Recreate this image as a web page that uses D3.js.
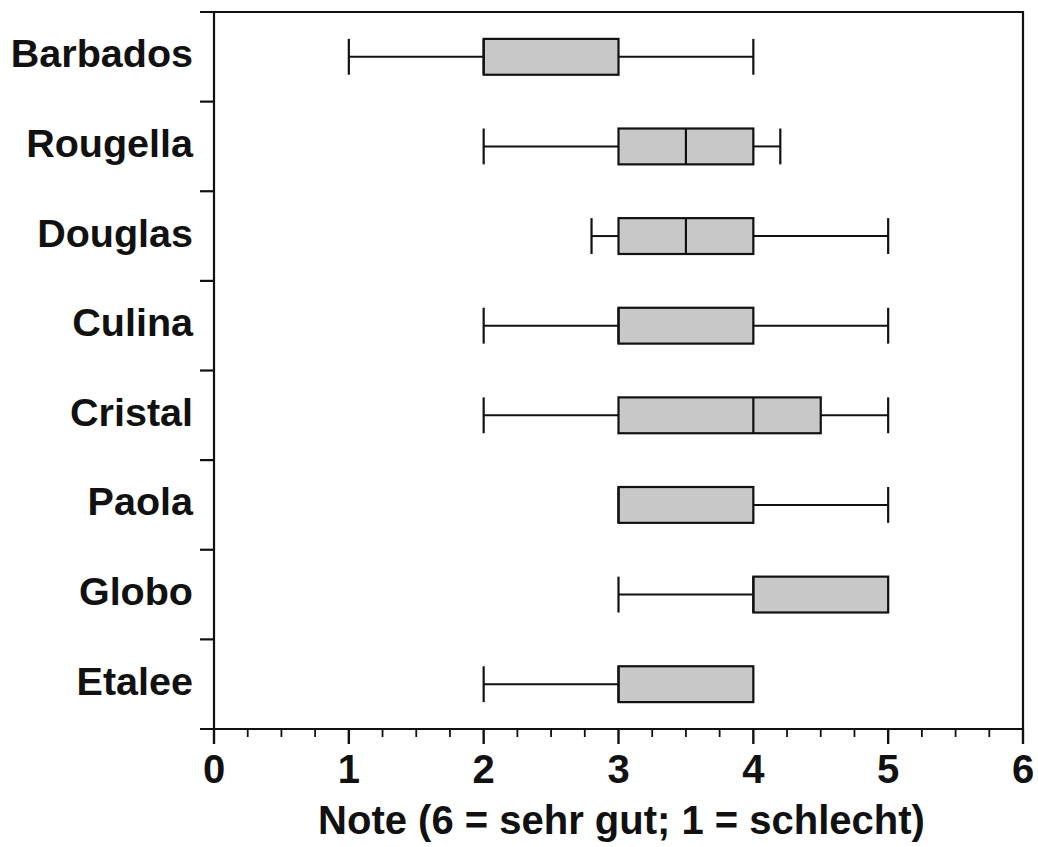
<!DOCTYPE html>
<html>
<head>
<meta charset="utf-8">
<script src="https://cdn.jsdelivr.net/npm/d3@7"></script>
<style>
  body { margin: 0; background: #fff; }
  text { font-family: "Liberation Sans", Arial, sans-serif; font-weight: bold; fill: #111; }
</style>
</head>
<body>
<svg width="1038" height="847"></svg>
<script>
// data
const names   = ["Barbados", "Rougella", "Douglas", "Culina", "Cristal", "Paola", "Globo", "Etalee"];
const mins    = [1, 2, 2.8, 2, 2, 3, 3, 2];
const q1s     = [2, 3, 3,   3, 3, 3, 4, 3];
const medians = [2, 3.5, 3.5, 3, 4, 3, 4, 3];
const q3s     = [3, 4, 4,   4, 4.5, 4, 5, 4];
const maxs    = [4, 4.2, 5, 5, 5, 5, 5, 4];
const xTicks  = [0, 1, 2, 3, 4, 5, 6];
const xTitle  = "Note (6 = sehr gut; 1 = schlecht)";

const data = names.map((n, i) => ({name: n, min: mins[i], q1: q1s[i], med: medians[i], q3: q3s[i], max: maxs[i]}));

const svg = d3.select("svg");
const mLeft = 214, mRight = 1023, mTop = 12, mBottom = 729;

const x = d3.scaleLinear().domain([0, 6]).range([mLeft, mRight]);
const y = d3.scaleBand().domain(names).range([mTop, mBottom]);
const bh = y.bandwidth() * 0.4;

// frame: top and right border
svg.append("path")
  .attr("d", `M${mLeft - 14},${mTop}H${mRight}V${mBottom}`)
  .attr("fill", "none").attr("stroke", "#111").attr("stroke-width", 2.2);

// x axis with minor ticks
const xg = svg.append("g").attr("transform", `translate(0,${mBottom})`);
xg.append("line").attr("x1", mLeft - 14).attr("x2", mRight)
  .attr("stroke", "#111").attr("stroke-width", 2.2);
xg.selectAll(".minor").data(d3.range(0, 6.001, 0.25).filter(v => v % 1 !== 0))
  .enter().append("line")
    .attr("x1", d => x(d)).attr("x2", d => x(d))
    .attr("y2", 8).attr("stroke", "#111").attr("stroke-width", 1.8);
xg.selectAll(".major").data(xTicks)
  .enter().append("line")
    .attr("x1", d => x(d)).attr("x2", d => x(d))
    .attr("y2", 15).attr("stroke", "#111").attr("stroke-width", 2.4);
xg.selectAll(".lab").data(xTicks)
  .enter().append("text")
    .attr("x", d => x(d)).attr("y", 54)
    .attr("text-anchor", "middle")
    .style("font-size", "40px")
    .text(d => d);

svg.append("text")
  .attr("x", (mLeft + mRight) / 2 + 3).attr("y", 834)
  .attr("text-anchor", "middle")
  .style("font-size", "40px")
  .text(xTitle);

// y axis
const yg = svg.append("g");
yg.append("line").attr("x1", mLeft).attr("x2", mLeft).attr("y1", mTop).attr("y2", mBottom)
  .attr("stroke", "#111").attr("stroke-width", 2.2);
yg.selectAll(".tick").data(names.slice(1))
  .enter().append("line")
    .attr("x1", mLeft - 14).attr("x2", mLeft)
    .attr("y1", d => y(d)).attr("y2", d => y(d))
    .attr("stroke", "#111").attr("stroke-width", 2.2);
yg.selectAll(".lab").data(names)
  .enter().append("text")
    .attr("x", mLeft - 21).attr("y", d => y(d) + y.bandwidth() / 2 + 10.5)
    .attr("text-anchor", "end")
    .style("font-size", "39.5px")
    .text(d => d);

// boxes
const g = svg.selectAll(".box").data(data).enter().append("g")
  .attr("transform", d => `translate(0,${y(d.name) + y.bandwidth() / 2})`);

g.append("line")
  .attr("x1", d => x(d.min)).attr("x2", d => x(d.q1))
  .attr("stroke", "#111").attr("stroke-width", 2);
g.append("line")
  .attr("x1", d => x(d.q3)).attr("x2", d => x(d.max))
  .attr("stroke", "#111").attr("stroke-width", 2);
g.filter(d => d.min < d.q1).append("line")
  .attr("x1", d => x(d.min)).attr("x2", d => x(d.min))
  .attr("y1", -bh / 2).attr("y2", bh / 2)
  .attr("stroke", "#111").attr("stroke-width", 2.2);
g.filter(d => d.max > d.q3).append("line")
  .attr("x1", d => x(d.max)).attr("x2", d => x(d.max))
  .attr("y1", -bh / 2).attr("y2", bh / 2)
  .attr("stroke", "#111").attr("stroke-width", 2.2);
g.append("rect")
  .attr("x", d => x(d.q1)).attr("width", d => x(d.q3) - x(d.q1))
  .attr("y", -bh / 2).attr("height", bh)
  .attr("fill", "#c8c8c8").attr("stroke", "#111").attr("stroke-width", 2.2);
g.append("line")
  .attr("x1", d => x(d.med)).attr("x2", d => x(d.med))
  .attr("y1", -bh / 2).attr("y2", bh / 2)
  .attr("stroke", "#111").attr("stroke-width", 2.2);
</script>
</body>
</html>
